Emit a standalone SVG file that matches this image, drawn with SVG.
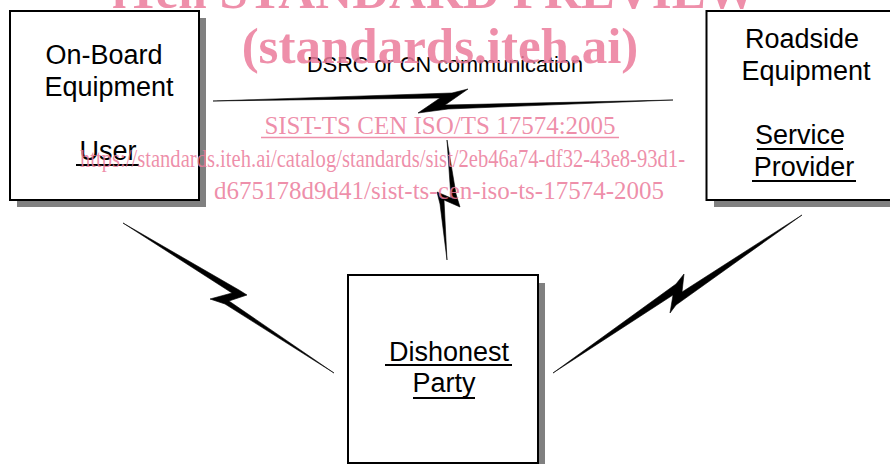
<svg xmlns="http://www.w3.org/2000/svg" width="890" height="464" viewBox="0 0 890 464">
<style>
.shadow{fill:#808080;stroke:none}
.box{fill:#ffffff;stroke:#000000;stroke-width:2}
.lbl{font-family:"Liberation Sans",Arial,sans-serif;font-size:27px;fill:#000000;text-anchor:middle}
.small{font-family:"Liberation Sans",Arial,sans-serif;font-size:21.7px;fill:#000000;text-anchor:middle}
.ul{stroke:#000000;stroke-width:2}
.bolt{fill:#000000;stroke:#000000;stroke-width:0.6;stroke-linejoin:miter}
.wm{font-family:"Liberation Serif","Times New Roman",serif;fill:rgb(235,123,155);fill-opacity:0.85}
.wmb{font-weight:bold;font-size:51px}
.wmr{font-size:25px}
</style>
<rect width="890" height="464" fill="#ffffff"/>
<g id="connectors">
<polygon class="bolt" points="213,101 452,93 468,89 445,105 673,100 448,109 418,113 440,98"/>
<polygon class="bolt" points="447,140 456,194 460,207 444,200 447,260 440,204 437,192 451,198"/>
<polygon class="bolt" points="123,223 239,290 247,295 229,301 334,373 225,304 210,299 232,293"/>
<polygon class="bolt" points="553,373 676,284 684,274 682,292 802,215 676,305 670,313 673,295"/>
<text class="small" x="445" y="72">DSRC or CN communication</text>
</g>
<g id="node-onboard">
<rect class="shadow" x="17" y="18" width="189" height="189"/>
<rect class="box" x="10" y="11" width="189" height="189"/>
<text class="lbl" x="104" y="64">On-Board</text>
<text class="lbl" x="109" y="96">Equipment</text>
<text class="lbl" x="108" y="160">User</text>
<line class="ul" x1="76" y1="165" x2="139" y2="165"/>
</g>
<g id="node-roadside">
<rect class="shadow" x="714" y="18" width="200" height="189"/>
<rect class="box" x="706.5" y="11" width="200" height="189"/>
<text class="lbl" x="802" y="48">Roadside</text>
<text class="lbl" x="806" y="80">Equipment</text>
<text class="lbl" x="800" y="144">Service</text>
<line class="ul" x1="757" y1="149" x2="843" y2="149"/>
<text class="lbl" x="804" y="176">Provider</text>
<line class="ul" x1="752" y1="181" x2="856" y2="181"/>
</g>
<g id="node-dishonest">
<rect class="shadow" x="355" y="283" width="190" height="190"/>
<rect class="box" x="348" y="275" width="190" height="188"/>
<text class="lbl" x="449" y="361">Dishonest</text>
<line class="ul" x1="385" y1="365" x2="512" y2="365"/>
<text class="lbl" x="444" y="392">Party</text>
<line class="ul" x1="413" y1="398" x2="475" y2="398"/>
</g>
<g id="watermark">
<text class="wm wmb" x="112" y="8" textLength="645" lengthAdjust="spacingAndGlyphs">iTeh STANDARD PREVIEW</text>
<text class="wm wmb" x="440" y="63" text-anchor="middle">(standards.iteh.ai)</text>
<text class="wm wmr" x="440" y="134" text-anchor="middle">SIST-TS CEN ISO/TS 17574:2005</text>
<line x1="261" y1="137.5" x2="619" y2="137.5" stroke="rgb(235,123,155)" stroke-opacity="0.85" stroke-width="1.5"/>
<text class="wm wmr" x="80" y="167" textLength="605" lengthAdjust="spacingAndGlyphs">https://standards.iteh.ai/catalog/standards/sist/2eb46a74-df32-43e8-93d1-</text>
<text class="wm wmr" x="439" y="199" text-anchor="middle">d675178d9d41/sist-ts-cen-iso-ts-17574-2005</text>
</g>
</svg>
